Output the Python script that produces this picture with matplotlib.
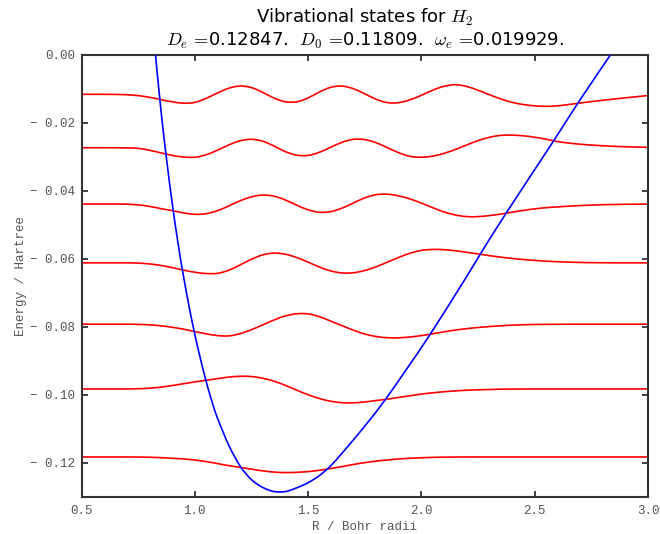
import matplotlib
matplotlib.use('Agg')
import matplotlib.pyplot as plt
from matplotlib.path import Path
from matplotlib.patches import PathPatch

# R grid (Bohr radii) on which the wavefunction curves were read
r_grid = [0.50, 0.55, 0.60, 0.65, 0.70, 0.75, 0.80, 0.85, 0.90, 0.95,
          1.00, 1.05, 1.10, 1.15, 1.20, 1.25, 1.30, 1.35, 1.40, 1.45,
          1.50, 1.55, 1.60, 1.65, 1.70, 1.75, 1.80, 1.85, 1.90, 1.95,
          2.00, 2.05, 2.10, 2.15, 2.20, 2.25, 2.30, 2.35, 2.40, 2.45,
          2.50, 2.55, 2.60, 2.65, 2.70, 2.75, 2.80, 2.85, 2.90, 2.95, 3.00]

# wavefunctions drawn at their energy level (Hartree)
psi_v0 = [-0.11824, -0.11824, -0.11824, -0.11824, -0.11824, -0.11826, -0.11832, -0.11844, -0.11862, -0.11882,
          -0.11915, -0.11959, -0.12018, -0.12079, -0.12129, -0.12182, -0.12232, -0.12268, -0.12282, -0.12274,
          -0.12253, -0.12215, -0.12162, -0.12106, -0.12044, -0.11991, -0.11947, -0.11912, -0.11882, -0.11862,
          -0.11847, -0.11835, -0.11829, -0.11826, -0.11824, -0.11824, -0.11824, -0.11824, -0.11824, -0.11824,
          -0.11824, -0.11824, -0.11824, -0.11824, -0.11824, -0.11824, -0.11824, -0.11824, -0.11824, -0.11824, -0.11824]
psi_v1 = [-0.09824, -0.09824, -0.09824, -0.09824, -0.09824, -0.09818, -0.09803, -0.09771, -0.09724, -0.09671,
          -0.09618, -0.09571, -0.09521, -0.09476, -0.09453, -0.09459, -0.09512, -0.09597, -0.09721, -0.09862,
          -0.09994, -0.10106, -0.10185, -0.10229, -0.10232, -0.10206, -0.10165, -0.10124, -0.10074, -0.10024,
          -0.09974, -0.09938, -0.09906, -0.09882, -0.09862, -0.09850, -0.09841, -0.09832, -0.09829, -0.09826,
          -0.09824, -0.09824, -0.09824, -0.09824, -0.09824, -0.09824, -0.09824, -0.09824, -0.09824, -0.09824, -0.09824]
psi_v2 = [-0.07921, -0.07921, -0.07921, -0.07921, -0.07921, -0.07926, -0.07941, -0.07968, -0.08012, -0.08068,
          -0.08138, -0.08203, -0.08256, -0.08265, -0.08200, -0.08082, -0.07941, -0.07797, -0.07679, -0.07615,
          -0.07618, -0.07700, -0.07832, -0.07965, -0.08097, -0.08209, -0.08282, -0.08318, -0.08321, -0.08297,
          -0.08256, -0.08203, -0.08144, -0.08094, -0.08053, -0.08018, -0.07991, -0.07968, -0.07950, -0.07938,
          -0.07929, -0.07926, -0.07924, -0.07922, -0.07921, -0.07921, -0.07921, -0.07921, -0.07921, -0.07921, -0.07921]
psi_v3 = [-0.06118, -0.06118, -0.06118, -0.06118, -0.06118, -0.06126, -0.06150, -0.06194, -0.06259, -0.06332,
          -0.06394, -0.06432, -0.06426, -0.06335, -0.06179, -0.06012, -0.05884, -0.05832, -0.05865, -0.05962,
          -0.06097, -0.06241, -0.06356, -0.06415, -0.06409, -0.06344, -0.06235, -0.06097, -0.05959, -0.05835,
          -0.05753, -0.05724, -0.05732, -0.05762, -0.05809, -0.05856, -0.05906, -0.05950, -0.05988, -0.06021,
          -0.06047, -0.06068, -0.06085, -0.06097, -0.06106, -0.06112, -0.06115, -0.06117, -0.06118, -0.06118, -0.06118]
psi_v4 = [-0.04391, -0.04391, -0.04391, -0.04391, -0.04394, -0.04415, -0.04459, -0.04524, -0.04585, -0.04650,
          -0.04691, -0.04674, -0.04585, -0.04444, -0.04294, -0.04179, -0.04126, -0.04159, -0.04271, -0.04424,
          -0.04559, -0.04632, -0.04612, -0.04509, -0.04359, -0.04209, -0.04115, -0.04101, -0.04150, -0.04241,
          -0.04362, -0.04497, -0.04621, -0.04712, -0.04759, -0.04759, -0.04729, -0.04685, -0.04632, -0.04576,
          -0.04532, -0.04497, -0.04474, -0.04453, -0.04435, -0.04421, -0.04409, -0.04403, -0.04397, -0.04394, -0.04391]
psi_v5 = [-0.02735, -0.02735, -0.02735, -0.02736, -0.02741, -0.02753, -0.02809, -0.02885, -0.02959, -0.03006,
          -0.03015, -0.02941, -0.02806, -0.02653, -0.02532, -0.02488, -0.02544, -0.02685, -0.02850, -0.02953,
          -0.02959, -0.02868, -0.02721, -0.02574, -0.02488, -0.02497, -0.02588, -0.02732, -0.02882, -0.02988,
          -0.03015, -0.02982, -0.02900, -0.02785, -0.02653, -0.02526, -0.02429, -0.02372, -0.02365, -0.02385,
          -0.02426, -0.02485, -0.02553, -0.02597, -0.02632, -0.02656, -0.02676, -0.02694, -0.02706, -0.02715, -0.02724]
psi_v6 = [-0.01165, -0.01165, -0.01165, -0.01168, -0.01179, -0.01203, -0.01253, -0.01321, -0.01385, -0.01426,
          -0.01403, -0.01285, -0.01125, -0.00985, -0.00921, -0.00968, -0.01109, -0.01276, -0.01385, -0.01385,
          -0.01271, -0.01097, -0.00959, -0.00924, -0.01000, -0.01150, -0.01309, -0.01409, -0.01409, -0.01326,
          -0.01193, -0.01044, -0.00929, -0.00882, -0.00935, -0.01045, -0.01175, -0.01300, -0.01400, -0.01465,
          -0.01503, -0.01518, -0.01503, -0.01465, -0.01421, -0.01379, -0.01341, -0.01303, -0.01268, -0.01235, -0.01200]

# potential energy curve
r_pot = [0.825, 0.850, 0.875, 0.900, 0.925, 0.950, 0.975, 1.000, 1.025, 1.050,
         1.075, 1.100, 1.150, 1.200, 1.250, 1.300, 1.350, 1.400, 1.450, 1.500,
         1.550, 1.600, 1.650, 1.700, 1.771, 1.841, 1.939, 2.039, 2.190, 2.260,
         2.374, 2.584, 2.690, 2.837]
e_pot = [0.0010, -0.0160, -0.0305, -0.0435, -0.0550, -0.0651, -0.0741, -0.0822, -0.0894, -0.0960,
         -0.1018, -0.1068, -0.1148, -0.1209, -0.1249, -0.1272, -0.1284, -0.1284, -0.1273, -0.1258,
         -0.1237, -0.1208, -0.1171, -0.1132, -0.10744, -0.10135, -0.09200, -0.08215, -0.06626, -0.05862,
         -0.04656, -0.02529, -0.01429, 0.0002]

x_ticks = [0.5, 1.0, 1.5, 2.0, 2.5, 3.0]
x_tick_labels = ['0.5', '1.0', '1.5', '2.0', '2.5', '3.0']
y_ticks = [0.0, -0.02, -0.04, -0.06, -0.08, -0.10, -0.12]
y_tick_labels = ['0.00', '\u2212 0.02', '\u2212 0.04', '\u2212 0.06', '\u2212 0.08', '\u2212 0.10', '\u2212 0.12']

plt.rcParams['mathtext.fontset'] = 'cm'
MONO = 'Liberation Mono'
GREY = '#555555'
SPINE = '#333333'


def smooth_curve(ax, xs, ys, color, lw=1.2, z=2):
    # draw the read points joined by a Catmull-Rom style bezier path
    pts = list(zip(xs, ys))
    n = len(pts)
    verts = [pts[0]]
    codes = [Path.MOVETO]
    for i in range(n - 1):
        p0 = pts[max(i - 1, 0)]
        p1 = pts[i]
        p2 = pts[i + 1]
        p3 = pts[min(i + 2, n - 1)]
        c1 = (p1[0] + (p2[0] - p0[0]) / 6, p1[1] + (p2[1] - p0[1]) / 6)
        c2 = (p2[0] - (p3[0] - p1[0]) / 6, p2[1] - (p3[1] - p1[1]) / 6)
        verts += [c1, c2, p2]
        codes += [Path.CURVE4] * 3
    ax.add_patch(PathPatch(Path(verts, codes), fill=False, edgecolor=color,
                           lw=lw, zorder=z, capstyle='round', joinstyle='round'))


fig = plt.figure(figsize=(6.6, 5.34), dpi=100)
ax = fig.add_axes([0.1235, 0.0693, 0.8583, 0.8283])

for psi in [psi_v0, psi_v1, psi_v2, psi_v3, psi_v4, psi_v5, psi_v6]:
    smooth_curve(ax, r_grid, psi, '#ff0000')
smooth_curve(ax, r_pot, e_pot, '#0000ff', z=3)

ax.set_xlim(0.5, 3.0)
ax.set_ylim(-0.13, 0.0)
ax.set_xticks(x_ticks)
ax.set_xticklabels(x_tick_labels, family=MONO, fontsize=9, color=GREY)
ax.set_yticks(y_ticks)
ax.set_yticklabels(y_tick_labels, family=MONO, fontsize=9, color=GREY)
ax.tick_params(direction='in', length=4, width=1.3, color=SPINE,
               top=True, right=True)
ax.tick_params(axis='x', pad=5.5)
ax.tick_params(axis='y', pad=4.5)
for s in ax.spines.values():
    s.set_color(SPINE)
    s.set_linewidth(1.5)

ax.set_xlabel('R / Bohr radii', family=MONO, fontsize=9, color=GREY, labelpad=3)
ax.set_ylabel('Energy / Hartree', family=MONO, fontsize=9, color=GREY, labelpad=2.5)
ax.set_title('Vibrational states for $H_2$\n'
             '$D_e\\,=\\!$0.12847.  $D_0\\,=\\!$0.11809.  $\\omega_e\\,=\\!$0.019929.',
             fontsize=13)

fig.savefig('out.png', dpi=100)
